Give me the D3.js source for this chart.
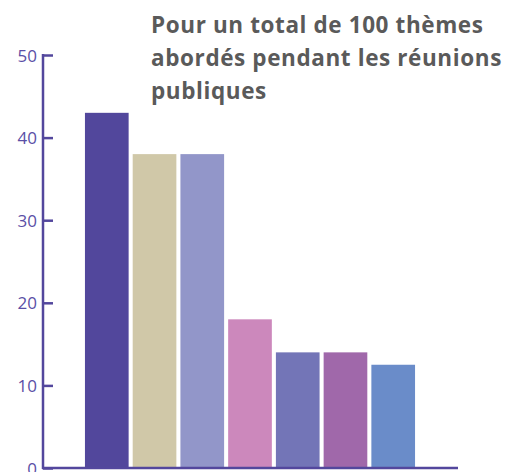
<!DOCTYPE html>
<html>
<head>
<meta charset="utf-8">
<script src="https://cdn.jsdelivr.net/npm/d3@7"></script>
<style>
  body { margin: 0; background: #fff; }
  svg { display: block; }
</style>
</head>
<body>
<div id="chart"></div>
<script>
// data
const categories = ['Thème 1', 'Thème 2', 'Thème 3', 'Thème 4', 'Thème 5', 'Thème 6', 'Thème 7'];
const values = [43, 38, 38, 18, 14, 14, 12.5];
const colors = ['#52479c', '#d0c8a8', '#9296c9', '#cc88bc', '#7375b7', '#a068aa', '#6a8cc9'];
const yTicks = [0, 10, 20, 30, 40, 50];
const titleLines = ['Pour un total de 100 thèmes', 'abordés pendant les réunions', 'publiques'];

const width = 517, height = 472;
const axisColor = '#53479d';

const svg = d3.select('#chart').append('svg')
    .attr('width', width)
    .attr('height', height);

// scales
const x = d3.scaleBand()
    .domain(categories)
    .range([84, 416])
    .paddingInner(0.085)
    .paddingOuter(0.02);

const y = d3.scaleLinear()
    .domain([0, 50])
    .range([468, 55]);

// bars
svg.selectAll('rect.bar')
    .data(values)
    .enter()
    .append('rect')
    .attr('class', 'bar')
    .attr('x', (d, i) => x(categories[i]))
    .attr('y', d => y(d))
    .attr('width', x.bandwidth())
    .attr('height', d => y(0) - y(d))
    .attr('fill', (d, i) => colors[i]);

// y axis, ticks pointing inward
const yAxis = svg.append('g')
    .attr('transform', 'translate(43,0)')
    .call(d3.axisRight(y).tickValues(yTicks).tickSize(10).tickFormat(d3.format('d')));
yAxis.select('.domain').remove();
yAxis.selectAll('.tick line')
    .attr('stroke', axisColor)
    .attr('stroke-width', 2.5);
yAxis.selectAll('.tick text')
    .attr('x', -6)
    .attr('dy', '0.36em')
    .attr('text-anchor', 'end')
    .attr('fill', '#5a4fa6')
    .style('font-family', '"Open Sans", sans-serif')
    .style('font-size', '17px');

svg.append('line')
    .attr('x1', 43).attr('x2', 43)
    .attr('y1', y(50) - 1).attr('y2', y(0) + 1)
    .attr('stroke', axisColor)
    .attr('stroke-width', 2.5);

// baseline
svg.append('line')
    .attr('x1', 42).attr('x2', 458)
    .attr('y1', y(0)).attr('y2', y(0))
    .attr('stroke', axisColor)
    .attr('stroke-width', 2.5);

// title
svg.append('text')
    .attr('x', 151)
    .attr('y', 33)
    .attr('fill', '#5a5a5a')
    .style('font-family', '"Open Sans", sans-serif')
    .style('font-weight', 'bold')
    .style('font-size', '22.5px')
    .style('letter-spacing', '0.6px')
    .selectAll('tspan')
    .data(titleLines)
    .enter()
    .append('tspan')
    .attr('x', 151)
    .attr('dy', (d, i) => i === 0 ? 0 : 33)
    .text(d => d);
</script>
</body>
</html>
